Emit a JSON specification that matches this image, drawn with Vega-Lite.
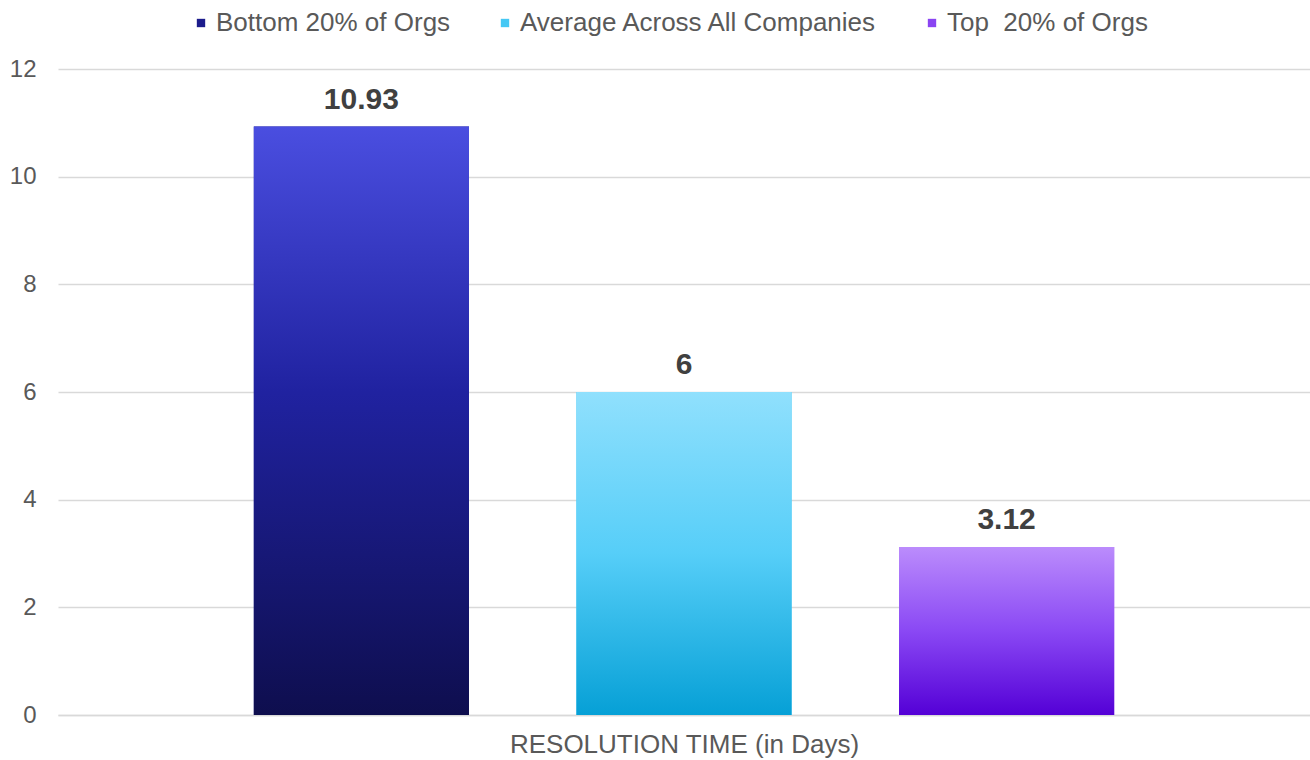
{
  "$schema": "https://vega.github.io/schema/vega-lite/v6.json",
  "autosize": {"type": "none"},
  "width": 1252,
  "height": 646,
  "padding": {"left": 58, "top": 69, "right": 0, "bottom": 45},
  "background": "white",
  "config": {
    "font": "Liberation Sans",
    "view": {"stroke": null}
  },
  "data": {
    "values": [
      {"group": "Bottom 20% of Orgs", "days": 10.93, "label": "10.93"},
      {"group": "Average Across All Companies", "days": 6, "label": "6"},
      {"group": "Top  20% of Orgs", "days": 3.12, "label": "3.12"}
    ]
  },
  "encoding": {
    "x": {
      "field": "group",
      "type": "nominal",
      "sort": ["Bottom 20% of Orgs", "Average Across All Companies", "Top  20% of Orgs"],
      "scale": {"paddingInner": 0.333, "paddingOuter": 0.607},
      "axis": {
        "title": "RESOLUTION TIME (in Days)",
        "labels": false,
        "ticks": false,
        "domain": true,
        "domainColor": "#d9d9d9",
        "domainWidth": 1.5,
        "titleFont": "Liberation Sans",
        "titleFontSize": 26,
        "titleFontWeight": "normal",
        "titleColor": "#595959",
        "titlePadding": 16
      }
    },
    "y": {
      "field": "days",
      "type": "quantitative",
      "scale": {"domain": [0, 12], "nice": false},
      "axis": {
        "title": null,
        "values": [0, 2, 4, 6, 8, 10, 12],
        "domain": false,
        "ticks": false,
        "grid": true,
        "gridColor": "#d9d9d9",
        "gridWidth": 1.5,
        "labelFont": "Liberation Sans",
        "labelFontSize": 24,
        "labelColor": "#595959",
        "labelPadding": 22
      }
    }
  },
  "layer": [
    {
      "mark": {"type": "bar"},
      "encoding": {
        "color": {
          "field": "group",
          "type": "nominal",
          "scale": {
            "domain": ["Bottom 20% of Orgs", "Average Across All Companies", "Top  20% of Orgs"],
            "range": ["#1c1c8c", "#45c8f4", "#8a44f2"]
          },
          "legend": {
            "title": null,
            "orient": "none",
            "direction": "horizontal",
            "legendX": 130,
            "legendY": -59,
            "symbolType": "square",
            "symbolSize": 70,
            "symbolStrokeWidth": 0,
            "labelFont": "Liberation Sans",
            "labelFontSize": 26,
            "labelColor": "#595959",
            "labelOffset": 2,
            "labelLimit": 600,
            "labelExpr": "replace(datum.label, '  ', '\u00a0 ')",
            "columnPadding": 41
          }
        }
      }
    },
    {
      "transform": [{"filter": "datum.group === 'Bottom 20% of Orgs'"}],
      "mark": {
        "type": "bar",
        "fill": {
          "gradient": "linear", "x1": 0, "y1": 0, "x2": 0, "y2": 1,
          "stops": [
            {"offset": 0, "color": "#4a4ee0"},
            {"offset": 0.45, "color": "#2022a0"},
            {"offset": 1, "color": "#0e0e4e"}
          ]
        }
      }
    },
    {
      "transform": [{"filter": "datum.group === 'Average Across All Companies'"}],
      "mark": {
        "type": "bar",
        "fill": {
          "gradient": "linear", "x1": 0, "y1": 0, "x2": 0, "y2": 1,
          "stops": [
            {"offset": 0, "color": "#90e0fd"},
            {"offset": 0.5, "color": "#56cef8"},
            {"offset": 1, "color": "#06a0d6"}
          ]
        }
      }
    },
    {
      "transform": [{"filter": "datum.group === 'Top  20% of Orgs'"}],
      "mark": {
        "type": "bar",
        "fill": {
          "gradient": "linear", "x1": 0, "y1": 0, "x2": 0, "y2": 1,
          "stops": [
            {"offset": 0, "color": "#bb8cfc"},
            {"offset": 0.5, "color": "#8a48f4"},
            {"offset": 1, "color": "#5400d6"}
          ]
        }
      }
    },
    {
      "mark": {
        "type": "text",
        "baseline": "bottom",
        "dy": -12,
        "font": "Liberation Sans",
        "fontSize": 30,
        "fontWeight": "bold",
        "color": "#404040"
      },
      "encoding": {
        "text": {"field": "label"}
      }
    }
  ]
}
